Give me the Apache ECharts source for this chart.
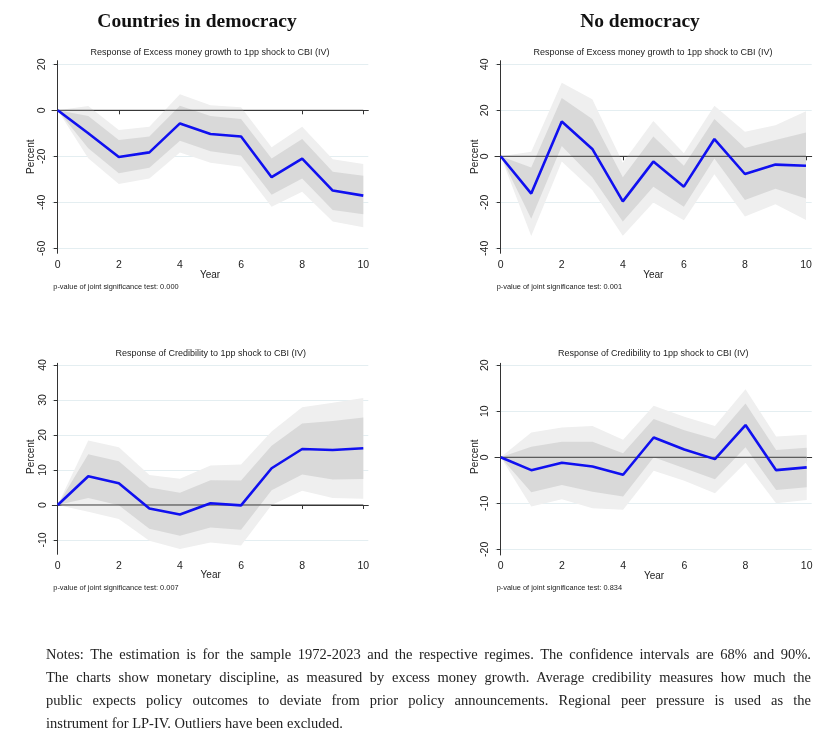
<!DOCTYPE html>
<html>
<head>
<meta charset="utf-8">
<script src="https://cdn.jsdelivr.net/npm/echarts@6/dist/echarts.min.js"></script>
<style>
  html, body { margin: 0; padding: 0; background: #fff; }
  #chart { position: absolute; left: 0; top: 0; width: 834px; height: 743px; }
  #notes { position: absolute; left: 46px; top: 643px; width: 765px;
           font-family: "Liberation Serif", serif; font-size: 14.5px; color: #222; line-height: 23px; }
  #notes div { text-align: justify; text-align-last: justify; white-space: nowrap; }
  #notes div.last { text-align-last: left; }
</style>
</head>
<body>
<div id="chart"></div>
<div id="notes">
  <div>Notes: The estimation is for the sample 1972-2023 and the respective regimes. The confidence intervals are 68% and 90%.</div>
  <div>The charts show monetary discipline, as measured by excess money growth. Average credibility measures how much the</div>
  <div>public expects policy outcomes to deviate from prior policy announcements. Regional peer pressure is used as the</div>
  <div class="last">instrument for LP-IV. Outliers have been excluded.</div>
</div>
<script>
// ---------- Data ----------
const years = [0, 1, 2, 3, 4, 5, 6, 7, 8, 9, 10];
const xTicks = [0, 2, 4, 6, 8, 10];

// Panel 1: democracy, excess money growth
const irf1   = [0, -10, -20.3, -18.3, -5.7, -10.3, -11.4, -29.1, -21, -34.9, -37.1];
const hi68_1 = [0, -2.5, -12.9, -11.4, 2, -2.5, -3.8, -21, -12.5, -26.7, -28.5];
const lo68_1 = [0, -16.5, -27.4, -25, -13.2, -17.8, -19.6, -36.7, -29.7, -43.3, -45.2];
const hi90_1 = [0, 1.9, -8.6, -7.1, 7, 2.2, 1.3, -16.1, -7.1, -21.3, -23.3];
const lo90_1 = [0, -20.9, -32, -29.6, -18.4, -22.8, -24.5, -41.9, -35.4, -48.4, -50.9];
const yTicks1 = [-60, -40, -20, 0, 20];

// Panel 2: no democracy, excess money growth
const irf2   = [0, -16.2, 15.1, 3.2, -19.6, -2.3, -13.2, 7.5, -7.7, -3.6, -4.1];
const hi68_2 = [0, -4.9, 25.4, 16.2, -9.1, 8.6, -4.1, 16.2, 3.6, 7.1, 10.3];
const lo68_2 = [0, -27.2, 4.5, -9.1, -28.4, -13.2, -21.9, -1, -19, -14.1, -18.3];
const hi90_2 = [0, 2, 32, 24.8, -2.8, 15.4, 1.3, 22, 10.7, 13.5, 19.6];
const lo90_2 = [0, -34.6, -2.3, -14.6, -34.5, -20.1, -27.8, -7.8, -26.2, -20.9, -27.7];
const yTicks2 = [-40, -20, 0, 20, 40];

// Panel 3: democracy, credibility
const irf3   = [0, 8.2, 6.2, -1, -2.7, 0.5, -0.1, 10.5, 16, 15.7, 16.2];
const hi68_3 = [0, 14.5, 12.5, 5, 3.5, 7.1, 7, 16.9, 23.3, 24, 25];
const lo68_3 = [0, 2, -0.1, -6.8, -8.8, -6.4, -7.1, 4.2, 8.7, 7.3, 7.4];
const hi90_3 = [0, 18.4, 16.5, 8.6, 7.5, 11.3, 11.6, 21, 27.9, 29.2, 30.6];
const lo90_3 = [0, -1.9, -4, -10.2, -12.6, -10.7, -11.6, 0, 4.1, 2, 1.8];
const yTicks3 = [-10, 0, 10, 20, 30, 40];

// Panel 4: no democracy, credibility
const irf4   = [0, -2.8, -1.2, -2, -3.8, 4.3, 1.7, -0.4, 7, -2.8, -2.2];
const hi68_4 = [0, 2.3, 3.4, 3.4, 0.9, 8.3, 5.9, 4, 11.7, 1.6, 2.1];
const lo68_4 = [0, -7.6, -6, -7.5, -8.5, 0, -2.4, -4.8, 2.2, -7.1, -6.5];
const hi90_4 = [0, 5.4, 6.5, 6.8, 3.8, 11.2, 8.8, 6.8, 14.8, 4.5, 4.9];
const lo90_4 = [0, -10.7, -9.1, -11.1, -11.4, -2.9, -5.1, -7.8, -1.2, -10, -9.3];
const yTicks4 = [-20, -10, 0, 10, 20];

const zeroRef = [0, 0];
const zeroYears = [0, 10];

const headers = ['Countries in democracy', 'No democracy'];
const subtitles = [
  'Response of Excess money growth to 1pp shock to CBI (IV)',
  'Response of Excess money growth to 1pp shock to CBI (IV)',
  'Response of Credibility to 1pp shock to CBI (IV)',
  'Response of Credibility to 1pp shock to CBI (IV)'
];
const pvalues = ['0.000', '0.001', '0.007', '0.834'];
const xTitle = 'Year';
const yTitle = 'Percent';

// ---------- Layout ----------
const panels = [
  { irf: irf1, hi68: hi68_1, lo68: lo68_1, hi90: hi90_1, lo90: lo90_1, yTicks: yTicks1,
    grid: { left: 52, top: 60.7, width: 316.3, height: 192.6 }, x: [-0.1865, 10.164], y: [-62.174, 21.565],
    sub: [210, 52.3], year: [210, 275], pct: [31.7, 156.7], pv: [53.3, 286.7] },
  { irf: irf2, hi68: hi68_2, lo68: lo68_2, hi90: hi90_2, lo90: lo90_2, yTicks: yTicks2,
    grid: { left: 495, top: 60.7, width: 316.7, height: 192.6 }, x: [-0.1867, 10.187], y: [-42.174, 41.565],
    sub: [653, 52.3], year: [653.3, 275], pct: [475, 156.7], pv: [496.7, 286.7] },
  { irf: irf3, hi68: hi68_3, lo68: lo68_3, hi90: hi90_3, lo90: lo90_3, yTicks: yTicks3,
    grid: { left: 52.3, top: 363.3, width: 316, height: 191 }, x: [-0.177, 10.164], y: [-14.086, 40.486],
    sub: [210.7, 353.3], year: [210.7, 575.7], pct: [31.7, 456.7], pv: [53.3, 587.7] },
  { irf: irf4, hi68: hi68_4, lo68: lo68_4, hi90: hi90_4, lo90: lo90_4, yTicks: yTicks4,
    grid: { left: 495, top: 363.3, width: 316.7, height: 191.7 }, x: [-0.186, 10.163], y: [-21.24, 20.43],
    sub: [653.3, 353.3], year: [654, 576], pct: [475, 456.7], pv: [496.7, 588.3] }
];

const SANS = '"Liberation Sans", Arial, sans-serif';
const grids = [], xAxes = [], yAxes = [], series = [], graphics = [];

function bandSeries(i, lo, hi, color, z) {
  return {
    type: 'custom', xAxisIndex: i, yAxisIndex: i, silent: true, z: z,
    data: years.map((yr, k) => [yr, lo[k], hi[k]]),
    encode: { x: 0, y: [1, 2] },
    renderItem: function (params, api) {
      if (params.dataIndex !== 0) return null;
      const pts = [];
      for (let k = 0; k < years.length; k++) pts.push(api.coord([years[k], hi[k]]));
      for (let k = years.length - 1; k >= 0; k--) pts.push(api.coord([years[k], lo[k]]));
      return { type: 'polygon', shape: { points: pts }, style: { fill: color, stroke: null } };
    }
  };
}

panels.forEach((p, i) => {
  grids.push(Object.assign({ containLabel: false }, p.grid));
  xAxes.push({
    type: 'value', gridIndex: i, min: p.x[0], max: p.x[1],
    axisLine: { show: true, lineStyle: { color: '#333', width: 1 } },
    axisTick: { show: true, length: 4, lineStyle: { color: '#333' }, customValues: xTicks },
    axisLabel: { customValues: xTicks, fontFamily: SANS, fontSize: 10.5, color: '#222', margin: 6 },
    splitLine: { show: false }
  });
  yAxes.push({
    type: 'value', gridIndex: i, min: p.y[0], max: p.y[1],
    axisLine: { show: true, lineStyle: { color: '#333', width: 1 } },
    axisTick: { show: true, length: 4, lineStyle: { color: '#333' }, customValues: p.yTicks },
    axisLabel: { customValues: p.yTicks, rotate: 90, fontFamily: SANS, fontSize: 10.5, color: '#222', margin: 4 },
    splitLine: { show: true, lineStyle: { color: '#e4eef1', width: 1 } }
  });
  const pair = (arr) => years.map((yr, k) => [yr, arr[k]]);
  series.push(bandSeries(i, p.lo90, p.hi90, '#efefef', 1));
  series.push(bandSeries(i, p.lo68, p.hi68, '#d9d9d9', 2));
  // zero reference line
  series.push({ type: 'line', xAxisIndex: i, yAxisIndex: i,
    data: zeroYears.map((yr, k) => [yr, zeroRef[k]]), symbol: 'none',
    lineStyle: { color: '#3a3a3a', width: 1 }, silent: true, z: 3 });
  // IRF line
  series.push({ type: 'line', xAxisIndex: i, yAxisIndex: i, data: pair(p.irf), symbol: 'none',
    lineStyle: { color: '#1010f0', width: 2.6 }, z: 4 });

  graphics.push({ type: 'text', x: p.sub[0], y: p.sub[1],
    style: { text: subtitles[i], font: '9px ' + SANS, fill: '#222', align: 'center', verticalAlign: 'middle' } });
  graphics.push({ type: 'text', x: p.year[0], y: p.year[1],
    style: { text: xTitle, font: '10px ' + SANS, fill: '#222', align: 'center', verticalAlign: 'middle' } });
  graphics.push({ type: 'text', x: p.pct[0], y: p.pct[1], rotation: Math.PI / 2,
    style: { text: yTitle, font: '10px ' + SANS, fill: '#222', align: 'center', verticalAlign: 'middle' } });
  graphics.push({ type: 'text', x: p.pv[0], y: p.pv[1],
    style: { text: 'p-value of joint significance test: ' + pvalues[i], font: '7.4px ' + SANS, fill: '#222', align: 'left', verticalAlign: 'middle' } });
});

graphics.push({ type: 'text', x: 197, y: 22,
  style: { text: headers[0], font: 'bold 19.5px "Liberation Serif", serif', fill: '#111', align: 'center', verticalAlign: 'middle' } });
graphics.push({ type: 'text', x: 640, y: 22,
  style: { text: headers[1], font: 'bold 19.5px "Liberation Serif", serif', fill: '#111', align: 'center', verticalAlign: 'middle' } });

const chart = echarts.init(document.getElementById('chart'), null, { renderer: 'canvas' });
chart.setOption({
  animation: false,
  backgroundColor: '#fff',
  grid: grids,
  xAxis: xAxes,
  yAxis: yAxes,
  series: series,
  graphic: graphics
});
</script>
</body>
</html>
